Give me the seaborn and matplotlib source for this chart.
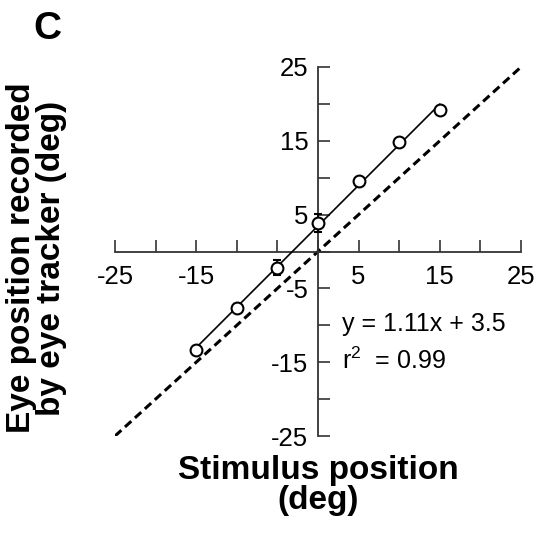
import numpy as np
import pandas as pd
import seaborn as sns
import matplotlib
matplotlib.use('Agg')
import matplotlib.pyplot as plt

# values
stim_pos = [-15, -10, -5, 0, 5, 10, 15]
eye_pos = [-13.3, -7.6, -2.2, 3.9, 9.5, 14.8, 19.2]
eye_err = [0.5, 0.5, 1.0, 1.2, 0.6, 0.4, 0.5]
tick_vals = list(range(-25, 30, 5))
x_labels = {-25: '-25', -15: '-15', 5: '5', 15: '15', 25: '25'}
y_labels = {-25: '-25', -15: '-15', -5: '-5', 5: '5', 15: '15', 25: '25'}
fit_text = 'y = 1.11x + 3.5'
r2_text = 'r$^2$  = 0.99'

sns.set_theme(style='white')
plt.rcParams['font.family'] = ['Liberation Sans', 'DejaVu Sans']
plt.rcParams['mathtext.fontset'] = 'custom'
plt.rcParams['mathtext.rm'] = 'Liberation Sans'
plt.rcParams['text.color'] = 'black'

df = pd.DataFrame({'stim': stim_pos, 'eye': eye_pos, 'err': eye_err})

fig = plt.figure(figsize=(5.41, 5.35), dpi=100)
ax = fig.add_axes([115 / 541, 1 - 436 / 535, 406 / 541, 369 / 535])

axis_col = '#333333'

# identity line
ax.plot([-25, 25], [-25, 25], color='black', lw=2.2, ls=(0, (2.8, 1.6)), zorder=2)

# regression line through the data
sns.regplot(data=df, x='stim', y='eye', ax=ax, scatter=False, ci=None, truncate=True,
            line_kws={'color': 'black', 'lw': 1.2, 'zorder': 3})

ax.errorbar(df['stim'], df['eye'], yerr=df['err'], fmt='o', ms=8.5, mfc='white',
            mec='black', mew=1.5, ecolor='black', elinewidth=1.2, capsize=3, zorder=4)

ax.set_xlim(-25, 25)
ax.set_ylim(-25, 25)
ax.set_xlabel('')
ax.set_ylabel('')

for s in ['top', 'right']:
    ax.spines[s].set_visible(False)
ax.spines['left'].set_position(('data', 0))
ax.spines['bottom'].set_position(('data', 0))
for s in ['left', 'bottom']:
    ax.spines[s].set_color(axis_col)
    ax.spines[s].set_linewidth(1.3)

ax.set_xticks(tick_vals)
ax.set_xticklabels([x_labels.get(t, '') for t in tick_vals])
ax.set_yticks(tick_vals)
ax.set_yticklabels([y_labels.get(t, '') for t in tick_vals])
ax.tick_params(axis='both', direction='in', length=8.5, width=1.2, color=axis_col,
               labelsize=18.5, labelcolor='black')
ax.tick_params(axis='x', pad=10, bottom=True)
ax.tick_params(axis='y', pad=7, left=True)

ax.text(3.0, -9.8, fit_text, fontsize=18, va='center', ha='left')
ax.text(3.0, -14.8, r2_text, fontsize=18, va='center', ha='left')

fig.text(33 / 541, 1 - 11 / 535, 'C', fontsize=28, fontweight='bold', va='top', ha='left')
fig.text(318 / 541, 1 - 455 / 535, 'Stimulus position\n(deg)', fontsize=24,
         fontweight='bold', ha='center', va='top', linespacing=0.95)
fig.text(6 / 541, 1 - 258 / 535, 'Eye position recorded\nby eye tracker (deg)',
         fontsize=24, fontweight='bold', rotation=90, ha='left', va='center',
         linespacing=0.95, multialignment='center')

fig.savefig('out.png', dpi=100)
